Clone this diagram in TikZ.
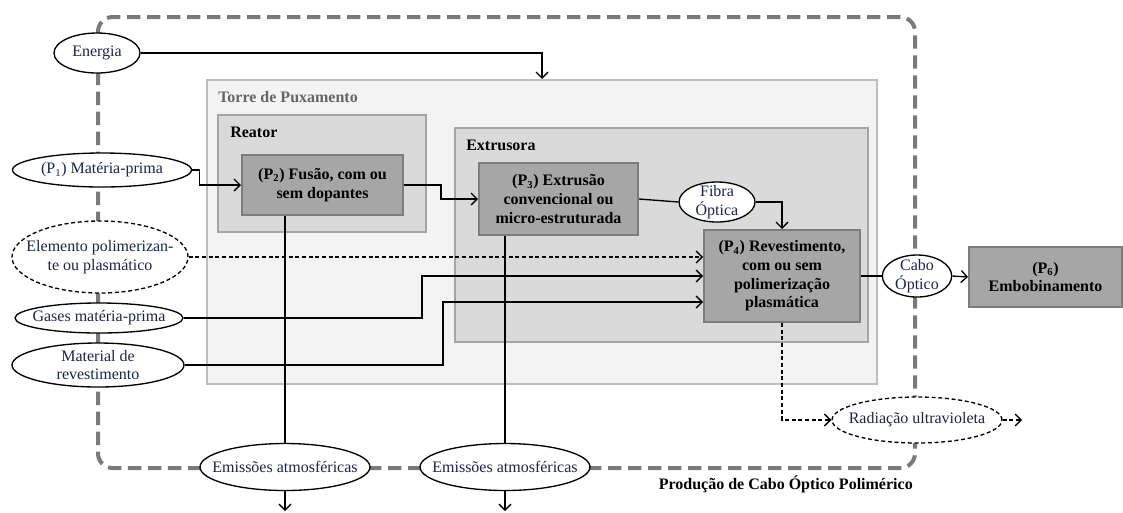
\documentclass[tikz,border=0pt]{standalone}
\usepackage{fontspec}
\setmainfont{Liberation Serif}
\usetikzlibrary{shapes.geometric,arrows.meta}

\definecolor{cinzamoldura}{RGB}{122,122,122}
\definecolor{fundotorre}{RGB}{243,243,243}
\definecolor{bordatorre}{RGB}{190,190,190}
\definecolor{fundogrupo}{RGB}{218,218,218}
\definecolor{bordagrupo}{RGB}{165,165,165}
\definecolor{fundoproc}{RGB}{166,166,166}
\definecolor{bordaproc}{RGB}{125,125,125}
\definecolor{azultexto}{RGB}{28,38,66}

\begin{document}
\begin{tikzpicture}[x=0.75pt,y=-0.75pt,
    font=\fontsize{12}{14}\selectfont,
    grupo/.style={draw=bordagrupo, fill=fundogrupo, line width=1.5pt, inner sep=0pt},
    titulo/.style={anchor=west, inner sep=0pt, font=\fontsize{12}{14}\selectfont\bfseries},
    processo/.style={draw=bordaproc, fill=fundoproc, line width=1.5pt, align=center,
        inner sep=0pt, font=\fontsize{12}{14}\selectfont\bfseries},
    balao/.style={ellipse, draw, fill=white, line width=1pt, align=center,
        inner xsep=-14pt, inner ysep=-4pt, text=azultexto},
    balaotrac/.style={balao, dash pattern=on 3pt off 2pt},
    fluxo/.style={line width=1pt, -{Straight Barb[length=4.5pt,width=9pt]}},
    fluxotrac/.style={fluxo, dash pattern=on 3pt off 2pt},
    moldura/.style={draw=cinzamoldura, line width=3pt, dash pattern=on 10pt off 5pt,
        rounded corners=11pt}
  ]
  \useasboundingbox (0,0) rectangle (1123,512);

  % fronteira do sistema
  \draw[moldura] (98,17) rectangle (915,468);
  \node[anchor=east, inner sep=0pt, font=\fontsize{12}{14}\selectfont\bfseries]
      (sistema) at (913,484) {Produção de Cabo Óptico Polimérico};

  % torre e equipamentos
  \node[grupo, draw=bordatorre, fill=fundotorre, minimum width=502.5pt, minimum height=228pt]
      (torre) at (542,232) {};
  \node[titulo, text=black!60] (ttorre) at (218,97) {Torre de Puxamento};
  \node[grupo, minimum width=156pt, minimum height=87.75pt] (reator) at (322,173.5) {};
  \node[titulo] (treator) at (230,132) {Reator};
  \node[grupo, minimum width=309.75pt, minimum height=160.5pt] (extrusora) at (661.5,235) {};
  \node[titulo] (textrusora) at (466,145) {Extrusora};

  % processos
  \node[processo, minimum width=120.75pt, minimum height=45pt] (p2) at (322.5,185)
      {(P\textsubscript{2}) Fusão, com ou\\sem dopantes};
  \node[processo, minimum width=119.25pt, minimum height=54pt] (p3) at (558.5,199)
      {(P\textsubscript{3}) Extrusão\\convencional ou\\micro-estruturada};
  \node[processo, minimum width=117pt, minimum height=69pt] (p4) at (782,276)
      {(P\textsubscript{4}) Revestimento,\\com ou sem\\polimerização\\plasmática};
  \node[processo, minimum width=114.75pt, minimum height=45pt] (p6) at (1045.5,277)
      {(P\textsubscript{6})\\Embobinamento};

  % entradas e saidas
  \node[balao, minimum width=64.5pt, minimum height=30pt] (energia) at (97,53) {Energia};
  \node[balao, minimum width=134.25pt, minimum height=25.5pt] (materia) at (102,170)
      {(P\textsubscript{1}) Matéria-prima};
  \node[balaotrac, minimum width=132pt, minimum height=54pt] (elemento) at (100,257)
      {Elemento polimerizan-\\te ou plasmático};
  \node[balao, minimum width=126pt, minimum height=22.5pt] (gases) at (99,318)
      {Gases matéria-prima};
  \node[balao, minimum width=129pt, minimum height=33pt] (material) at (98,365)
      {Material de\\revestimento};
  \node[balao, minimum width=57pt, minimum height=30pt] (fibra) at (717,202)
      {Fibra\\Óptica};
  \node[balao, minimum width=52pt, minimum height=31.5pt] (cabo) at (917,276)
      {Cabo\\Óptico};
  \node[balaotrac, minimum width=127.5pt, minimum height=34.5pt] (radiacao) at (917,420)
      {Radiação ultravioleta};
  \node[balao, minimum width=127.5pt, minimum height=35.25pt] (emissao1) at (285,467)
      {Emissões atmosféricas};
  \node[balao, minimum width=127.5pt, minimum height=35.25pt] (emissao2) at (505,467)
      {Emissões atmosféricas};

  \coordinate (saida1) at (285,511);
  \coordinate (saida2) at (505,511);
  \coordinate (saidauv) at (1022,420);

  % fluxos
  \draw[fluxo] (energia.east) -| (torre.north);
  \draw[fluxo] (materia.east) -- ++(7,0) |- (p2.west);
  \draw[fluxo] (p2.east) -- ++(37,0) |- (p3.west);
  \draw[line width=1pt] (p3.east) -- (fibra.west);
  \draw[fluxo] (fibra.east) -| (p4.north);
  \draw[fluxotrac] (elemento.east) -- (elemento.east -| p4.west);
  \draw[fluxo] (gases.east) -| (422,276) -- (p4.west);
  \draw[fluxo] (material.east) -| (443,302) -- (p4.west |- 443,302);
  \draw[line width=1pt] (emissao1.north |- p2.south) -- (emissao1.north);
  \draw[line width=1pt] (emissao2.north |- p3.south) -- (emissao2.north);
  \draw[fluxo] (emissao1.south) -- (saida1);
  \draw[fluxo] (emissao2.south) -- (saida2);
  \draw[line width=1pt] (p4.east) -- (cabo.west);
  \draw[fluxo] (cabo.east) -- (p6.west);
  \draw[fluxotrac] (p4.south) |- (radiacao.west);
  \draw[fluxotrac] (radiacao.east) -- (saidauv);
\end{tikzpicture}
\end{document}
